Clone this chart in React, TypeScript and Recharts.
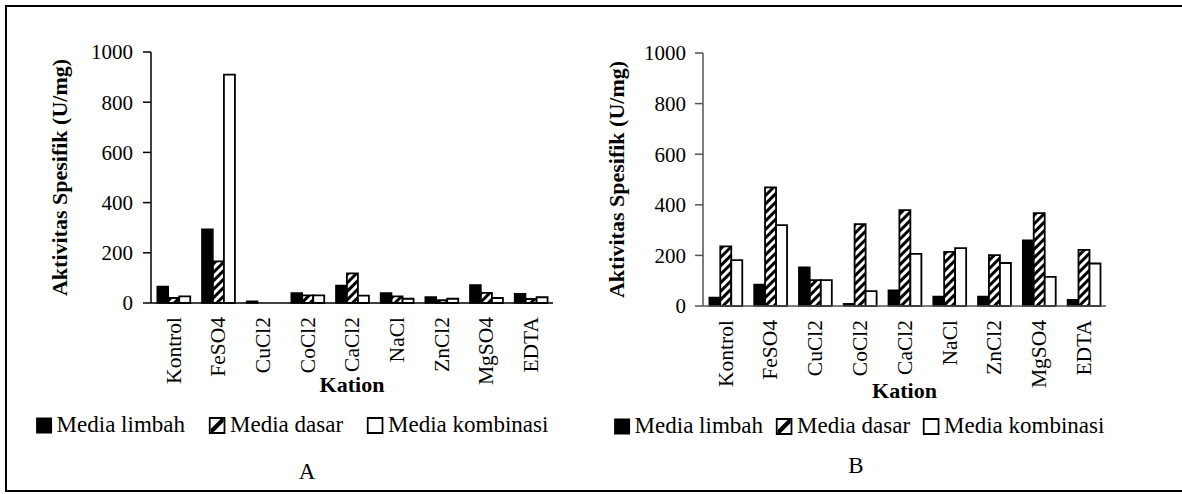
import React from "react";
import { Bar, BarChart, XAxis, YAxis } from "recharts";

const categories = ["Kontrol", "FeSO4", "CuCl2", "CoCl2", "CaCl2", "NaCl", "ZnCl2", "MgSO4", "EDTA"];
const seriesNames = ["Media limbah", "Media dasar", "Media kombinasi"];
const yTicks = [0, 200, 400, 600, 800, 1000];

// panel A
const limbahA = [66, 294, 7, 40, 70, 40, 24, 72, 37];
const dasarA = [20, 166, 0, 30, 118, 26, 11, 40, 16];
const kombinasiA = [26, 910, 0, 30, 29, 17, 17, 20, 23];

// panel B
const limbahB = [34, 85, 153, 9, 62, 38, 38, 260, 25];
const dasarB = [236, 469, 102, 324, 379, 214, 201, 367, 222];
const kombinasiB = [181, 320, 102, 59, 206, 229, 170, 115, 168];

const serif = '"Liberation Serif", "Times New Roman", serif';

const toRows = (a: number[], b: number[], c: number[]) =>
  categories.map((name, i) => ({ name, limbah: a[i], dasar: b[i], kombinasi: c[i] }));

const CategoryTick = (props: any) => {
  const { x, y, payload } = props;
  return (
    <text
      x={x}
      y={y}
      transform={`rotate(-90, ${x}, ${y})`}
      textAnchor="end"
      dy="0.34em"
      fontFamily={serif}
      fontSize={21.5}
      fill="#000"
    >
      {payload.value}
    </text>
  );
};

type PanelProps = {
  rows: any[];
  x0: number;
  width: number;
  plotLeft: number;
  plotRight: number;
  plotTop: number;
  plotBottom: number;
  axisColor: string;
  patternId: string;
  titleX: number;
  kationY: number;
  tickGap: number;
};

function Panel(p: PanelProps) {
  const axisHeight = 110;
  return (
    <div style={{ position: "absolute", left: p.x0, top: 0 }}>
      <BarChart
        width={p.width}
        height={494}
        data={p.rows}
        margin={{
          top: p.plotTop,
          right: p.width - (p.plotRight - p.x0),
          left: 0,
          bottom: 494 - p.plotBottom - axisHeight,
        }}
        barCategoryGap="14%"
        barGap={0}
      >
        <defs>
          <pattern
            id={p.patternId}
            patternUnits="userSpaceOnUse"
            width="6"
            height="6"
            patternTransform="rotate(45)"
          >
            <rect width="6" height="6" fill="#fff" />
            <line x1="1.5" y1="0" x2="1.5" y2="6" stroke="#000" strokeWidth="3" />
          </pattern>
        </defs>
        <XAxis
          dataKey="name"
          interval={0}
          height={axisHeight}
          tickLine={false}
          tickSize={0}
          tickMargin={14}
          axisLine={{ stroke: p.axisColor, strokeWidth: 1.5 }}
          tick={<CategoryTick />}
          label={{
            content: (lp: any) => {
              const vb = lp.viewBox;
              return (
                <text
                  x={vb.x + vb.width / 2}
                  y={vb.y + p.kationY}
                  textAnchor="middle"
                  fontFamily={serif}
                  fontSize={22}
                  fontWeight="bold"
                  fill="#000"
                >
                  Kation
                </text>
              );
            },
          }}
        />
        <YAxis
          width={p.plotLeft - p.x0}
          domain={[0, 1000]}
          ticks={yTicks}
          interval={0}
          tickSize={8}
          tickMargin={p.tickGap}
          axisLine={{ stroke: p.axisColor, strokeWidth: 1.5 }}
          tickLine={{ stroke: p.axisColor, strokeWidth: 1.5 }}
          tick={{ fontFamily: serif, fontSize: 21, fill: "#000" }}
          label={{
            content: (lp: any) => {
              const vb = lp.viewBox;
              const cx = vb.x + p.titleX;
              const cy = vb.y + vb.height / 2;
              return (
                <text
                  x={cx}
                  y={cy}
                  transform={`rotate(-90, ${cx}, ${cy})`}
                  textAnchor="middle"
                  dominantBaseline="central"
                  fontFamily={serif}
                  fontSize={22}
                  fontWeight="bold"
                  fill="#000"
                >
                  Aktivitas Spesifik (U/mg)
                </text>
              );
            },
          }}
        />
        <Bar dataKey="limbah" name={seriesNames[0]} fill="#000" stroke="#000" strokeWidth={1.5} isAnimationActive={false} />
        <Bar dataKey="dasar" name={seriesNames[1]} fill={`url(#${p.patternId})`} stroke="#000" strokeWidth={1.8} isAnimationActive={false} />
        <Bar dataKey="kombinasi" name={seriesNames[2]} fill="#fff" stroke="#000" strokeWidth={1.8} isAnimationActive={false} />
      </BarChart>
    </div>
  );
}

function LegendIcon({ kind }: { kind: number }) {
  return (
    <svg width={17} height={17} style={{ display: "block" }}>
      {kind === 0 && <rect x={0.5} y={0.5} width={16} height={16} fill="#000" />}
      {kind === 1 && (
        <g>
          <rect x={1} y={1} width={15} height={15} fill="#fff" stroke="#000" strokeWidth={2} />
          <polygon points="2,12 12,2 15,2 15,5 5,15 2,15" fill="#000" />
        </g>
      )}
      {kind === 2 && <rect x={1} y={1} width={15} height={15} fill="#fff" stroke="#000" strokeWidth={2} />}
    </svg>
  );
}

function SeriesLegend({ left, top, gap }: { left: number; top: number; gap: number }) {
  return (
    <div
      style={{
        position: "absolute",
        left,
        top,
        transform: "translateX(-50%)",
        display: "flex",
        alignItems: "center",
        gap,
        whiteSpace: "nowrap",
        fontFamily: serif,
        fontSize: 23,
        lineHeight: "26px",
      }}
    >
      {seriesNames.map((s, i) => (
        <div key={s} style={{ display: "flex", alignItems: "center", gap: 4 }}>
          <LegendIcon kind={i} />
          <span>{s}</span>
        </div>
      ))}
    </div>
  );
}

export default function App() {
  const rowsA = toRows(limbahA, dasarA, kombinasiA);
  const rowsB = toRows(limbahB, dasarB, kombinasiB);
  return (
    <div style={{ position: "absolute", left: 0, top: 0, width: 1182, height: 494, background: "#fff", overflow: "hidden" }}>
      <div
        style={{
          position: "absolute",
          left: 5,
          top: 5,
          width: 1210,
          height: 487,
          boxSizing: "border-box",
          border: "2px solid #000",
        }}
      />
      <Panel
        rows={rowsA}
        x0={0}
        width={600}
        plotLeft={151}
        plotRight={553}
        plotTop={52}
        plotBottom={303}
        axisColor="#000"
        patternId="hatchA"
        titleX={59}
        kationY={89}
        tickGap={10}
      />
      <Panel
        rows={rowsB}
        x0={560}
        width={622}
        plotLeft={703}
        plotRight={1106}
        plotTop={53}
        plotBottom={306}
        axisColor="#555"
        patternId="hatchB"
        titleX={56}
        kationY={92}
        tickGap={9}
      />
      <SeriesLegend left={292} top={412} gap={24} />
      <SeriesLegend left={859} top={413} gap={13} />
      <div style={{ position: "absolute", left: 307, top: 459, transform: "translateX(-50%)", fontFamily: serif, fontSize: 23 }}>A</div>
      <div style={{ position: "absolute", left: 856, top: 453, transform: "translateX(-50%)", fontFamily: serif, fontSize: 23 }}>B</div>
    </div>
  );
}
